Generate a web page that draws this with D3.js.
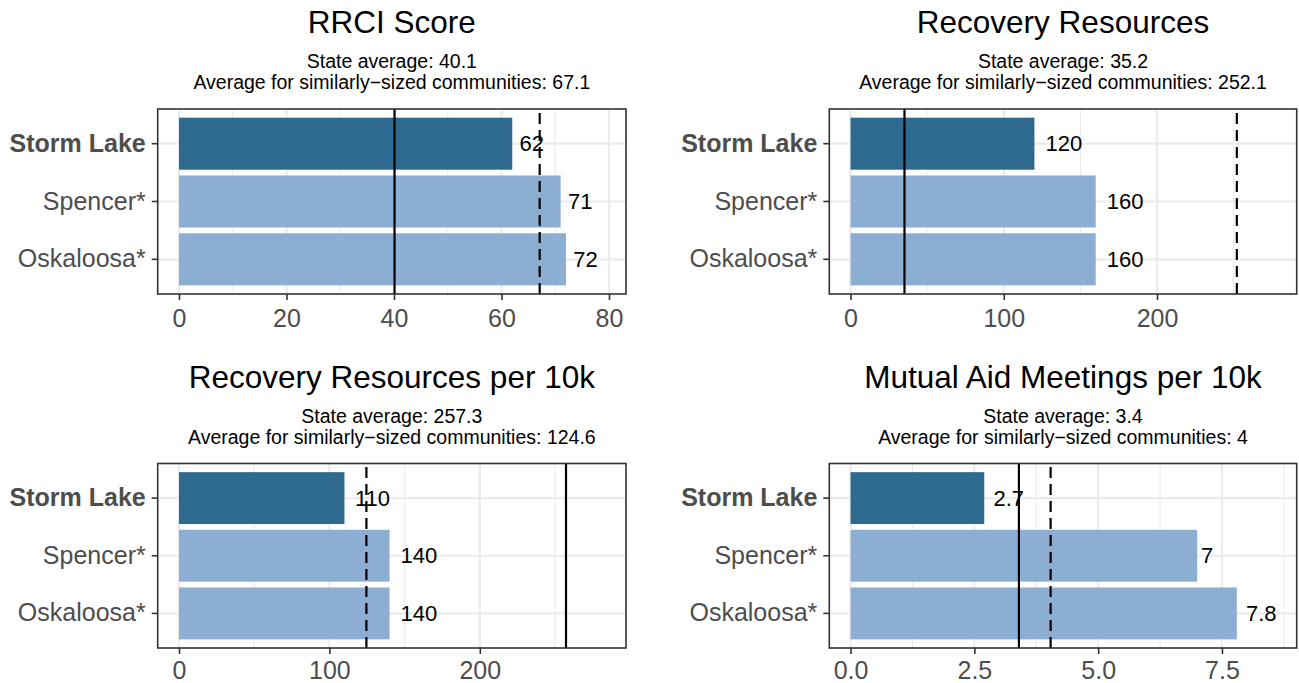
<!DOCTYPE html>
<html>
<head>
<meta charset="utf-8">
<script src="https://cdn.jsdelivr.net/npm/d3@7"></script>
<style>
  body { margin: 0; background: #fff; }
  svg text { font-family: "Liberation Sans", Arial, sans-serif; }
</style>
</head>
<body>
<svg id="chart" width="1299" height="683"></svg>
<script>
// Communities, top to bottom
const communities = ['Storm Lake', 'Spencer*', 'Oskaloosa*']
const focusCommunity = 'Storm Lake'

// One entry per panel
const metricTitles = ['RRCI Score', 'Recovery Resources', 'Recovery Resources per 10k', 'Mutual Aid Meetings per 10k']
const rrciScore = [62, 71, 72]
const recoveryResources = [120, 160, 160]
const resourcesPer10k = [110, 140, 140]
const meetingsPer10k = [2.7, 7, 7.8]
const stateAverage = [40.1, 35.2, 257.3, 3.4]
const similarAverage = [67.1, 252.1, 124.6, 4.04]

// x tick values for each panel
const xTicks = [
  [0, 20, 40, 60, 80],
  [0, 100, 200],
  [0, 100, 200],
  [0, 2.5, 5, 7.5]
]
const xMinorTicks = [
  [10, 30, 50, 70],
  [50, 150, 250],
  [50, 150, 250],
  [1.25, 3.75, 6.25, 8.75]
]

const seriesValues = [rrciScore, recoveryResources, resourcesPer10k, meetingsPer10k]

// panel boxes (layout)
const boxes = [
  { x0: 157.7, x1: 626, y0: 109, y1: 294 },
  { x0: 829.3, x1: 1296.7, y0: 109, y1: 294 },
  { x0: 157.7, x1: 626, y0: 463.5, y1: 648 },
  { x0: 829.3, x1: 1296.7, y0: 463.5, y1: 648 }
]

const darkBlue = '#2e6a8f'
const lightBlue = '#8caed2'
const gridColor = '#ebebeb'
const axisTextColor = '#4d4d4d'

const svg = d3.select('#chart')

// mimic R's round(x, 1) pasted into a string
const fmtAvg = (v) => String(+v.toFixed(1))
const fmtBar = d3.format('.2~r')

metricTitles.forEach((title, i) => drawPanel(i))

/**
 * Draws one bar panel with its titles, grid, reference lines and labels
 *
 * @param {number} i The panel index
 */
function drawPanel (i) {
  const box = boxes[i]
  const values = seriesValues[i]
  const maxVal = d3.max([...values, stateAverage[i], similarAverage[i]]) * 1.1
  const pad = maxVal * 0.05

  const xScale = d3.scaleLinear()
    .domain([-pad, maxVal + pad])
    .range([box.x0, box.x1])

  const yScale = d3.scaleBand()
    .domain(communities)
    .range([box.y0, box.y1])
    .paddingInner(0.1)
    .paddingOuter(0.15)

  const g = svg.append('g').attr('class', 'panel')
  const cx = (box.x0 + box.x1) / 2

  // titles
  g.append('text')
    .attr('x', cx).attr('y', box.y0 - 76)
    .attr('text-anchor', 'middle')
    .attr('font-size', 31.5)
    .attr('fill', '#000')
    .text(metricTitles[i])

  g.append('text')
    .attr('x', cx).attr('y', box.y0 - 41)
    .attr('text-anchor', 'middle')
    .attr('font-size', 19.5)
    .text('State average: ' + fmtAvg(stateAverage[i]))

  g.append('text')
    .attr('x', cx).attr('y', box.y0 - 20)
    .attr('text-anchor', 'middle')
    .attr('font-size', 19.5)
    .text('Average for similarly\u2212sized communities: ' + fmtAvg(similarAverage[i]))

  // grid lines
  const grid = g.append('g')
  grid.selectAll('line.minor')
    .data(xMinorTicks[i])
    .enter().append('line')
    .attr('class', 'minor')
    .attr('x1', (d) => xScale(d)).attr('x2', (d) => xScale(d))
    .attr('y1', box.y0).attr('y2', box.y1)
    .attr('stroke', gridColor).attr('stroke-width', 1.1)

  grid.selectAll('line.major')
    .data(xTicks[i])
    .enter().append('line')
    .attr('class', 'major')
    .attr('x1', (d) => xScale(d)).attr('x2', (d) => xScale(d))
    .attr('y1', box.y0).attr('y2', box.y1)
    .attr('stroke', gridColor).attr('stroke-width', 2.2)

  grid.selectAll('line.hmajor')
    .data(communities)
    .enter().append('line')
    .attr('class', 'hmajor')
    .attr('x1', box.x0).attr('x2', box.x1)
    .attr('y1', (d) => yScale(d) + yScale.bandwidth() / 2)
    .attr('y2', (d) => yScale(d) + yScale.bandwidth() / 2)
    .attr('stroke', gridColor).attr('stroke-width', 2.2)

  // bars
  g.selectAll('rect.bar')
    .data(communities)
    .enter().append('rect')
    .attr('class', 'bar')
    .attr('x', xScale(0))
    .attr('y', (d) => yScale(d))
    .attr('width', (d, j) => xScale(values[j]) - xScale(0))
    .attr('height', yScale.bandwidth())
    .attr('fill', (d) => d === focusCommunity ? darkBlue : lightBlue)

  // reference lines (drawn bottom to top)
  g.append('line')
    .attr('x1', xScale(stateAverage[i])).attr('x2', xScale(stateAverage[i]))
    .attr('y1', box.y1).attr('y2', box.y0)
    .attr('stroke', '#000').attr('stroke-width', 2.2)

  g.append('line')
    .attr('x1', xScale(similarAverage[i])).attr('x2', xScale(similarAverage[i]))
    .attr('y1', box.y1).attr('y2', box.y0)
    .attr('stroke', '#000').attr('stroke-width', 2.2)
    .attr('stroke-dasharray', '11,6')

  // bar value labels, nudged right by 30% of their width
  g.selectAll('text.value')
    .data(communities)
    .enter().append('text')
    .attr('class', 'value')
    .attr('y', (d) => yScale(d) + yScale.bandwidth() / 2)
    .attr('dy', '0.35em')
    .attr('font-size', 22)
    .attr('fill', '#000')
    .text((d, j) => fmtBar(values[j]))
    .attr('x', function (d, j) {
      return xScale(values[j]) + 0.3 * this.getComputedTextLength()
    })

  // panel border
  g.append('rect')
    .attr('x', box.x0).attr('y', box.y0)
    .attr('width', box.x1 - box.x0).attr('height', box.y1 - box.y0)
    .attr('fill', 'none').attr('stroke', '#333').attr('stroke-width', 1.6)

  // x axis
  const xAxis = g.append('g')
    .attr('transform', 'translate(0,' + box.y1 + ')')
    .call(d3.axisBottom(xScale).tickValues(xTicks[i]).tickSize(6)
      .tickPadding(i < 2 ? 9 : 7)
      .tickFormat(d3.format('~g')))
  if (i === 3) xAxis.call((a) => a.selectAll('text').text((d) => d3.format('.1f')(d)))
  styleAxis(xAxis)
  xAxis.selectAll('text').attr('dy', '0.71em')

  // y axis
  const yAxis = g.append('g')
    .attr('transform', 'translate(' + box.x0 + ',0)')
    .call(d3.axisLeft(yScale).tickSize(6).tickPadding(6))
  styleAxis(yAxis)
  yAxis.selectAll('text')
    .attr('font-weight', (d) => d === focusCommunity ? 'bold' : 'normal')
}

/**
 * Applies the grey theme look to an axis group
 *
 * @param {*} axis The axis selection
 */
function styleAxis (axis) {
  axis.select('.domain').remove()
  axis.selectAll('.tick line').attr('stroke', '#333').attr('stroke-width', 1.6)
  axis.selectAll('text')
    .attr('font-size', 25)
    .attr('fill', axisTextColor)
    .attr('font-family', '"Liberation Sans", Arial, sans-serif')
}
</script>
</body>
</html>
